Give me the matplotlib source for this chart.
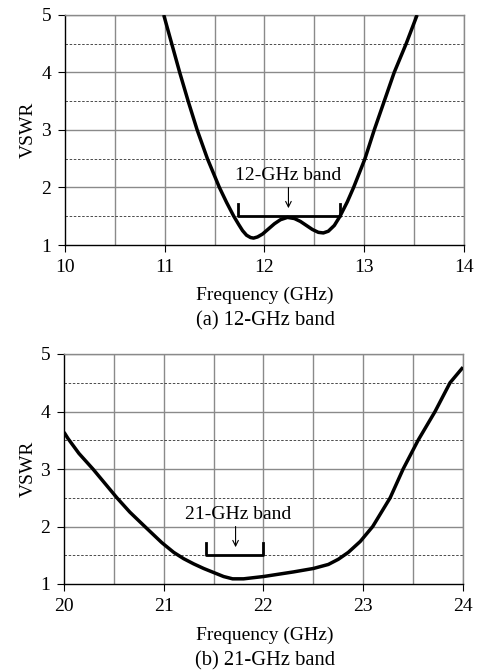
import numpy as np
import matplotlib.pyplot as plt

plt.rcParams['font.family'] = ['Liberation Serif', 'DejaVu Serif']

# (a) 12-GHz band VSWR curve
freq_a = [10.99, 11.07, 11.15, 11.235, 11.325, 11.428, 11.548, 11.62, 11.692,
          11.74, 11.78, 11.82, 11.86, 11.89, 11.93, 11.98, 12.04, 12.10, 12.16,
          12.23, 12.30, 12.36, 12.42, 12.48, 12.54, 12.59, 12.64, 12.70, 12.757,
          12.83, 12.893, 13.007, 13.1, 13.2, 13.3, 13.42, 13.53]
vswr_a = [5.0, 4.5, 4.0, 3.5, 3.0, 2.5, 2.0, 1.74, 1.5,
          1.36, 1.25, 1.17, 1.13, 1.12, 1.14, 1.19, 1.28, 1.37, 1.44,
          1.48, 1.46, 1.41, 1.34, 1.27, 1.22, 1.21, 1.24, 1.34, 1.5,
          1.75, 2.0, 2.5, 3.0, 3.5, 4.0, 4.5, 5.0]
band_a = [11.73, 12.76]

# (b) 21-GHz band VSWR curve
freq_b = [20.0, 20.04, 20.15, 20.29, 20.41, 20.53, 20.66, 20.81, 20.98, 21.1,
          21.2, 21.3, 21.4, 21.5, 21.6, 21.69, 21.8, 21.9, 22.0, 22.15,
          22.3, 22.5, 22.65, 22.75, 22.85, 22.97, 23.095, 23.27, 23.40, 23.55,
          23.72, 23.87, 24.0]
vswr_b = [3.64, 3.53, 3.27, 3.0, 2.75, 2.5, 2.25, 2.0, 1.72, 1.55,
          1.44, 1.35, 1.27, 1.2, 1.13, 1.09, 1.09, 1.11, 1.13, 1.17,
          1.21, 1.27, 1.34, 1.43, 1.55, 1.74, 2.0, 2.5, 3.0, 3.5,
          4.0, 4.5, 4.77]
band_b = [21.42, 21.99]

W, H = 481, 671
FS = 14
fig = plt.figure(figsize=(W / 100, H / 100), dpi=100)


def draw(ax, fx, vy, band, xlim, label, text_x, arrow_x):
    x0, x1 = xlim
    ax.set_xlim(x0, x1)
    ax.set_ylim(1, 5)
    for xv in np.arange(x0 + 0.5, x1 + 0.01, 0.5):
        ax.axvline(xv, color='#8a8a8a', lw=1.0, zorder=1)
    for yv in [2, 3, 4, 5]:
        ax.axhline(yv, color='#8a8a8a', lw=1.0, zorder=1)
    for yv in [1.5, 2.5, 3.5, 4.5]:
        ax.axhline(yv, color='#303030', lw=0.6, ls=(0, (3, 2)), zorder=1)
    ax.plot(fx, vy, color='black', lw=2.5, zorder=3, solid_capstyle='butt',
            solid_joinstyle='round')
    # band marker
    ax.plot([band[0], band[0], band[1], band[1]], [1.71, 1.5, 1.5, 1.71],
            color='black', lw=2.0, zorder=4)
    ax.annotate('', xy=(arrow_x, 1.64), xytext=(arrow_x, 2.0),
                arrowprops=dict(arrowstyle='->', color='black', lw=0.8,
                                shrinkA=0, shrinkB=0))
    ax.text(text_x, 2.21, label, ha='center', va='center', fontsize=FS)
    ax.set_xticks(range(int(x0), int(x1) + 1))
    ax.set_yticks([1, 2, 3, 4, 5])
    ax.tick_params(labelsize=FS, length=5, width=0.8, pad=5, direction='out')
    for s in ['top', 'right']:
        ax.spines[s].set_color('#8a8a8a')
        ax.spines[s].set_linewidth(1.0)
    for s in ['left', 'bottom']:
        ax.spines[s].set_color('black')
        ax.spines[s].set_linewidth(1.0)


ax1 = fig.add_axes([65 / W, 1 - 245 / H, 399 / W, 230 / H])
draw(ax1, freq_a, vswr_a, band_a, (10, 14), '12-GHz band', 12.236, 12.24)
fig.text(28 / W, 1 - 130 / H, 'VSWR', rotation=90, ha='center', va='center', fontsize=FS)
fig.text(265 / W, 1 - 295 / H, 'Frequency (GHz)', ha='center', va='center', fontsize=FS)
fig.text(265 / W, 1 - 321 / H, '(a) 12-GHz band', ha='center', va='center', fontsize=14.8)

ax2 = fig.add_axes([64 / W, 1 - 584 / H, 399 / W, 230 / H])
draw(ax2, freq_b, vswr_b, band_b, (20, 24), '21-GHz band', 21.747, 21.72)
fig.text(28 / W, 1 - 469 / H, 'VSWR', rotation=90, ha='center', va='center', fontsize=FS)
fig.text(265 / W, 1 - 635 / H, 'Frequency (GHz)', ha='center', va='center', fontsize=FS)
fig.text(265 / W, 1 - 661 / H, '(b) 21-GHz band', ha='center', va='center', fontsize=14.8)

fig.savefig('out.png', dpi=100)
